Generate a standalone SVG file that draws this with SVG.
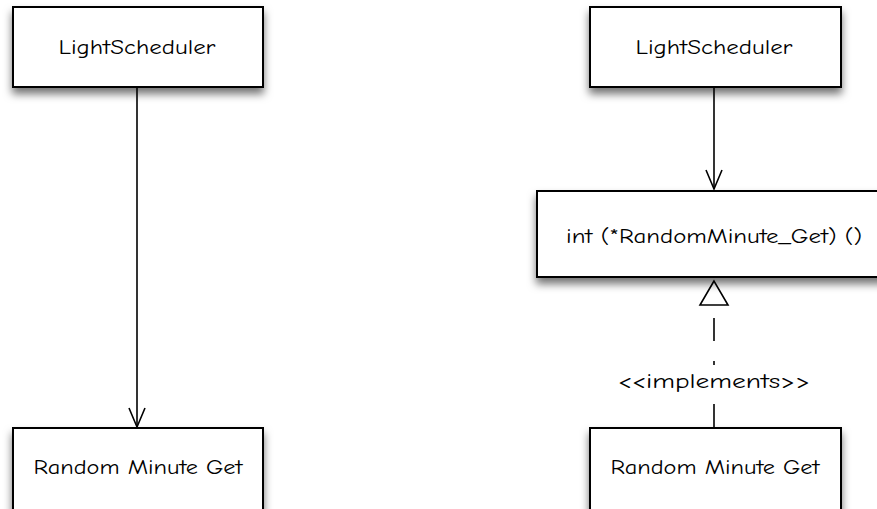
<svg xmlns="http://www.w3.org/2000/svg" width="877" height="509" viewBox="0 0 877 509">
<style>
.box{fill:#fff;stroke:#000;stroke-width:2;filter:url(#sh)}
.lbl{font-family:"Comic Neue","Liberation Sans",sans-serif;font-size:20px;fill:#000;text-anchor:middle}
.ln{stroke:#000;stroke-width:1.6;fill:none}
</style>
<defs>
<filter id="sh" x="-10%" y="-20%" width="120%" height="150%">
<feDropShadow dx="0" dy="6" stdDeviation="4" flood-color="#000" flood-opacity="0.55"/>
</filter>
</defs>
<rect width="877" height="509" fill="#fff"/>
<g id="connectors">
<line class="ln" x1="137" y1="87" x2="137" y2="427"/>
<path class="ln" d="M129,408 L137,427 L145,408"/>
<line class="ln" x1="714" y1="87" x2="714" y2="189"/>
<path class="ln" d="M706,170 L714,189 L722,170"/>
<polygon points="714,281 700,305 728,305" fill="#fff" stroke="#000" stroke-width="1.6"/>
<line class="ln" x1="714" y1="318" x2="714" y2="341"/>
<line class="ln" x1="714" y1="361" x2="714" y2="365"/>
<line class="ln" x1="714" y1="404" x2="714" y2="428"/>
<text class="lbl" x="714" y="388" textLength="192" lengthAdjust="spacingAndGlyphs">&lt;&lt;implements&gt;&gt;</text>
</g>
<g id="ls-left">
<rect class="box" x="13" y="7" width="250" height="80"/>
<text class="lbl" x="137" y="54" textLength="157" lengthAdjust="spacingAndGlyphs">LightScheduler</text>
</g>
<g id="rmg-left">
<rect class="box" x="13" y="428" width="250" height="90"/>
<text class="lbl" x="138" y="474" textLength="209" lengthAdjust="spacingAndGlyphs">Random Minute Get</text>
</g>
<g id="ls-right">
<rect class="box" x="590" y="7" width="251" height="80"/>
<text class="lbl" x="714" y="54" textLength="157" lengthAdjust="spacingAndGlyphs">LightScheduler</text>
</g>
<g id="iface">
<rect class="box" x="537" y="191" width="355" height="86"/>
<text class="lbl" x="714" y="243" textLength="296" lengthAdjust="spacingAndGlyphs">int (*RandomMinute_Get) ()</text>
</g>
<g id="rmg-right">
<rect class="box" x="590" y="428" width="251" height="90"/>
<text class="lbl" x="715" y="474" textLength="209" lengthAdjust="spacingAndGlyphs">Random Minute Get</text>
</g>
</svg>
